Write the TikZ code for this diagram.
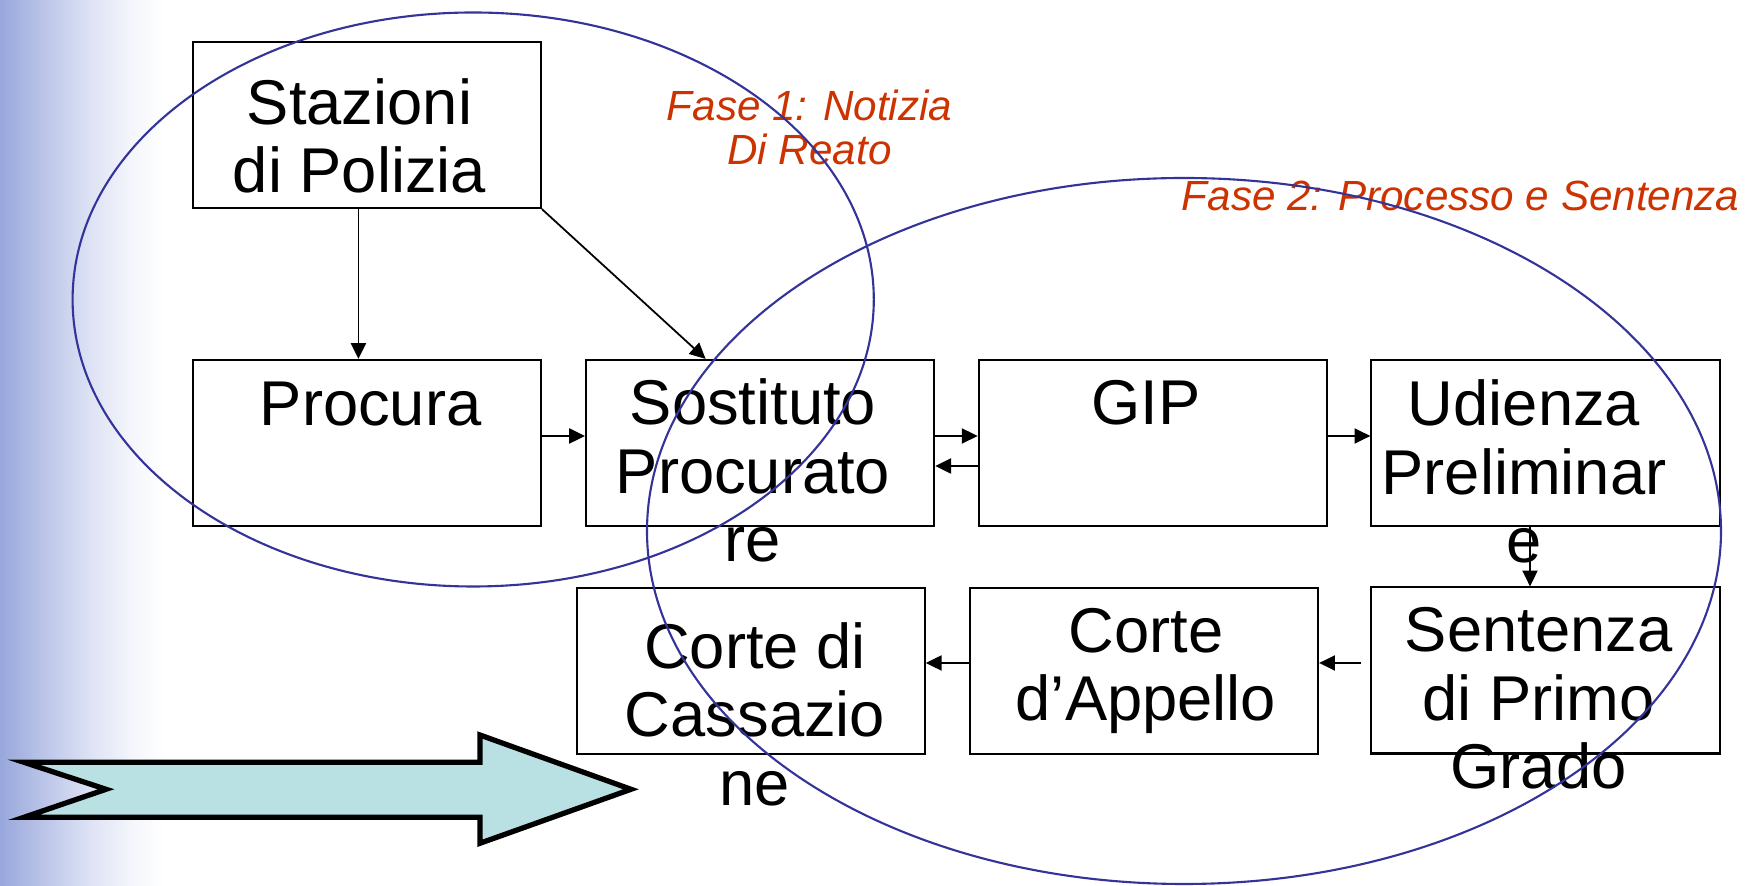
\documentclass[tikz,border=0pt]{standalone}
\usepackage{fontspec}
\setmainfont{Liberation Sans}
\usetikzlibrary{calc,arrows.meta}
\definecolor{ellcol}{RGB}{51,51,153}
\definecolor{fasecol}{RGB}{204,51,0}
\definecolor{arrfill}{RGB}{185,224,226}
\definecolor{bgleft}{RGB}{152,167,220}
\pgfdeclarehorizontalshading{bgfade}{100bp}{color(0bp)=(bgleft); color(25bp)=(bgleft); color(37.5bp)=(bgleft!68!white); color(52.5bp)=(bgleft!32!white); color(65bp)=(bgleft!10!white); color(75bp)=(white); color(100bp)=(white)}
\newcommand\stk[1]{\vtop{\halign{\hfil##\hfil\cr#1\crcr}}}
\begin{document}
\begin{tikzpicture}[x=0.01cm,y=-0.01cm,
  box/.style={draw, line width=0.6pt, minimum width=3.48cm, minimum height=1.66cm, inner sep=0pt},
  boxtext/.style={anchor=base, inner sep=0pt, font=\fontsize{18}{19.45}\selectfont},
  fase/.style={anchor=base, inner sep=0pt, text=fasecol, font=\fontsize{12}{12.6}\selectfont\itshape},
  conn/.style={line width=0.5pt, -{Triangle[length=4.5pt,width=4.3pt]}},
  phase/.style={draw=ellcol, line width=0.6pt}]
\useasboundingbox (0,0) rectangle (1745,886);
\shade[shading=bgfade] (0,0) rectangle (165,886);

% boxes
\node[box] (staz) at (366.75,125) {};
\node[box] (proc) at (366.75,443) {};
\node[box] (sost) at (760.1,443) {};
\node[box] (gip)  at (1152.8,443) {};
\node[box] (udi)  at (1545.5,443) {};
\node[box] (cass) at (750.65,671) {};
\node[box] (app)  at (1144,671) {};
\node[box] (sent) at (1545.5,670.5) {};

% box texts
\node[boxtext] (tstaz) at (359.5,124.6) {\stk{Stazioni\cr di Polizia}};
\node[boxtext] (tproc) at (370.6,426) {Procura};
\node[boxtext] (tsost) at (753,425) {\stk{Sostituto\cr Procurato\cr re}};
\node[boxtext] (tgip)  at (1146,425) {GIP};
\node[boxtext] (tudi)  at (1524,426) {\stk{Udienza\cr Preliminar\cr e}};
\node[boxtext] (tcass) at (755,668.3) {\stk{Corte di\cr Cassazio\cr ne}};
\node[boxtext] (tapp)  at (1146,652.3) {\stk{Corte\cr d’Appello}};
\node[boxtext] (tsent) at (1538.6,652) {\stk{Sentenza\cr di Primo\cr Grado}};

% phase labels
\node[fase] (f1) at (809.5,120.7) {\stk{Fase 1: Notizia\cr Di Reato}};
\node[fase] (f2) at (1460.7,210.7) {Fase 2: Processo e Sentenza};

% connectors
\draw[conn] ($(staz.south)+(-8.3,0)$) -- ($(proc.north)+(-8.3,0)$);
\draw[conn] (staz.south east) -- ($(sost.north)+(-54.5,0)$);
\draw[conn] ($(proc.east)+(0,-7)$) -- ($(sost.west)+(0,-7)$);
\draw[conn] ($(sost.east)+(0,-7)$) -- ($(gip.west)+(0,-7)$);
\draw[conn] ($(gip.west)+(0,23)$) -- ($(sost.east)+(0,23)$);
\draw[conn] ($(gip.east)+(0,-7)$) -- ($(udi.west)+(0,-7)$);
\draw[conn] ($(udi.south)+(-15.5,0)$) -- ($(sent.north)+(-15.5,0)$);
\draw[conn] ($(sent.west)+(-9,-7.5)$) -- ($(app.east)+(0,-8)$);
\draw[conn] ($(app.west)+(0,-8)$) -- ($(cass.east)+(0,-8)$);

% big arrow
\draw[line width=1.5pt, fill=arrfill, line join=miter]
  (24,762.3) -- (479.9,762.3) -- (479.9,735) -- (631,789.3) -- (479.9,843.3)
  -- (479.9,817.3) -- (24,817.3) -- (106,789.3) -- cycle;

% phase ellipses
\draw[phase] (473.2,299.5) ellipse [x radius=400.6, y radius=287];
\draw[phase] (1184,531) ellipse [x radius=537, y radius=353];
\end{tikzpicture}
\end{document}
